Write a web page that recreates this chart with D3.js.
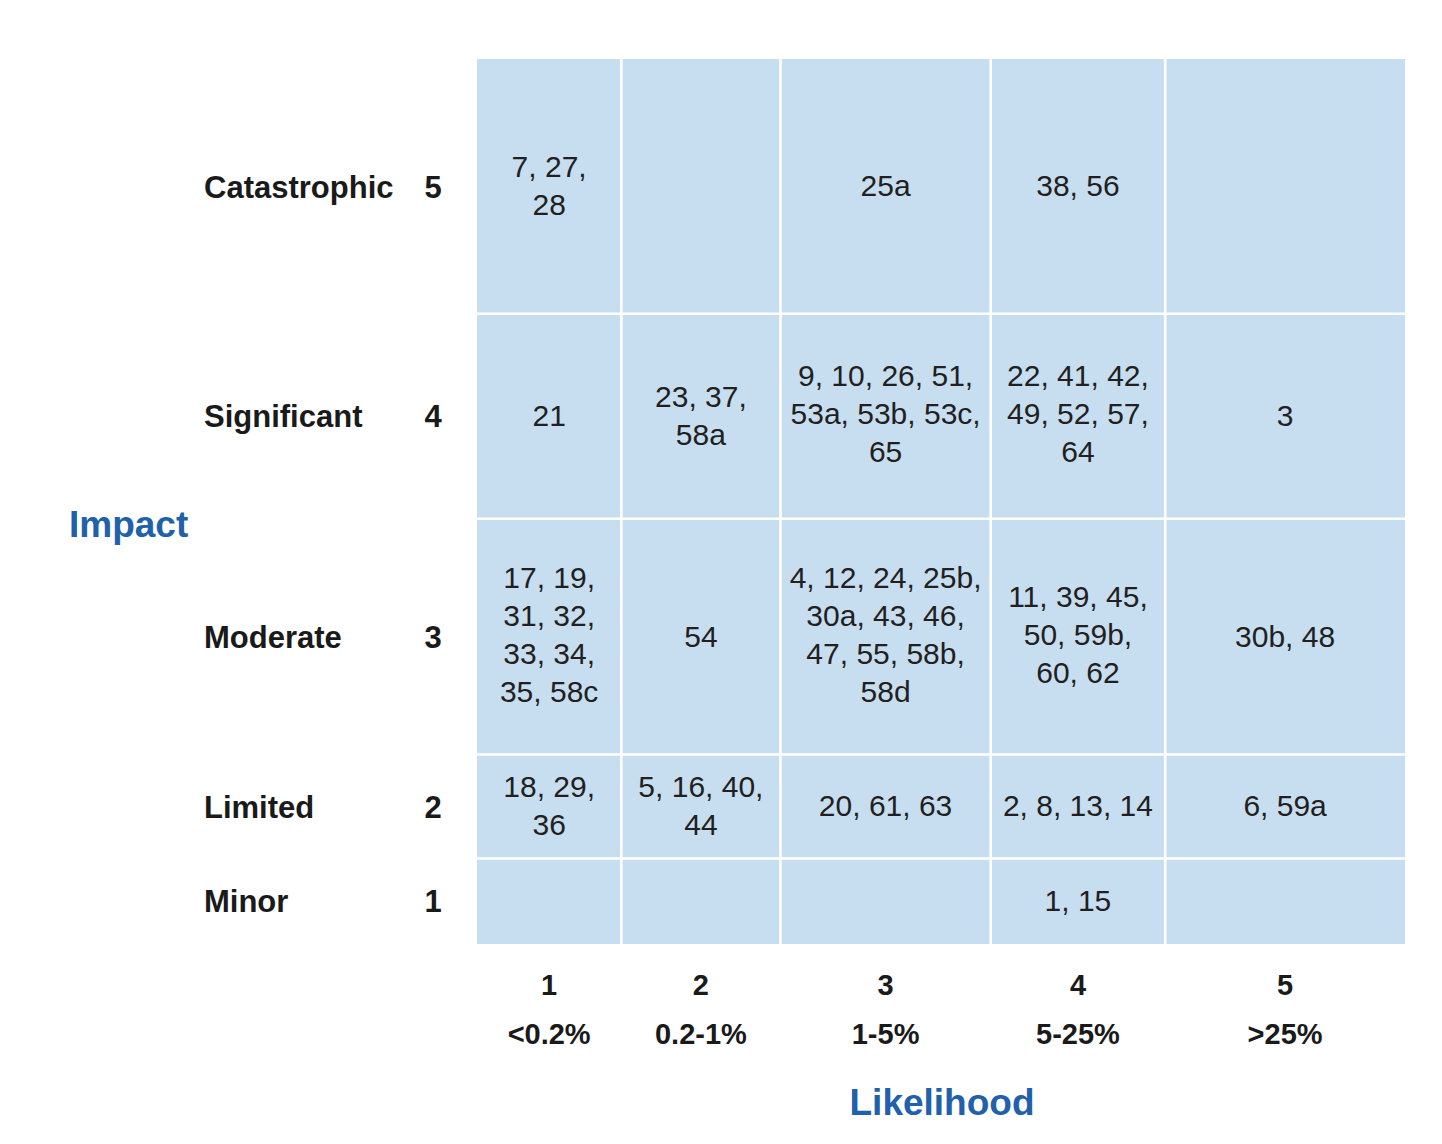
<!DOCTYPE html>
<html>
<head>
<meta charset="utf-8">
<script src="https://cdn.jsdelivr.net/npm/d3@7"></script>
<style>
  body { margin: 0; background: #fff; }
  svg text { font-family: "Liberation Sans", Arial, Helvetica, sans-serif; }
</style>
</head>
<body>
<div id="chart"></div>
<script>
// likelihood columns (x) and impact rows (y)
const likelihood = ["1", "2", "3", "4", "5"];
const likelihoodRange = ["<0.2%", "0.2-1%", "1-5%", "5-25%", ">25%"];
const impact = ["5", "4", "3", "2", "1"];
const impactNames = ["Catastrophic", "Significant", "Moderate", "Limited", "Minor"];

// risk ids per cell, one array per impact row, lines as wrapped in the original
const row5 = [["7, 27,", "28"], [], ["25a"], ["38, 56"], []];
const row4 = [["21"], ["23, 37,", "58a"], ["9, 10, 26, 51,", "53a, 53b, 53c,", "65"], ["22, 41, 42,", "49, 52, 57,", "64"], ["3"]];
const row3 = [["17, 19,", "31, 32,", "33, 34,", "35, 58c"], ["54"], ["4, 12, 24, 25b,", "30a, 43, 46,", "47, 55, 58b,", "58d"], ["11, 39, 45,", "50, 59b,", "60, 62"], ["30b, 48"]];
const row2 = [["18, 29,", "36"], ["5, 16, 40,", "44"], ["20, 61, 63"], ["2, 8, 13, 14"], ["6, 59a"]];
const row1 = [[], [], [], ["1, 15"], []];
const rows = [row5, row4, row3, row2, row1];

const width = 1442, height = 1144;
// uneven grid edges (layout)
const colEdges = [477, 621.3, 780.5, 990.7, 1165.2, 1405];
const rowEdges = [59, 313.8, 518.7, 754.5, 858.5, 944];

const x = d3.scaleLinear().domain(d3.range(6)).range(colEdges);
const y = d3.scaleLinear().domain(d3.range(6)).range(rowEdges);
const xc = i => (x(i) + x(i + 1)) / 2;
const yc = i => (y(i) + y(i + 1)) / 2;

const cells = [];
rows.forEach((r, ri) => r.forEach((lines, ci) => cells.push({ri, ci, lines})));

const svg = d3.select("#chart").append("svg")
  .attr("width", width).attr("height", height)
  .attr("viewBox", [0, 0, width, height]);

// cells
svg.append("g")
  .selectAll("rect")
  .data(cells)
  .join("rect")
  .attr("x", d => x(d.ci))
  .attr("y", d => y(d.ri))
  .attr("width", d => x(d.ci + 1) - x(d.ci))
  .attr("height", d => y(d.ri + 1) - y(d.ri))
  .attr("fill", "#c7def1");

// white separators
const grid = svg.append("g").attr("stroke", "#fff").attr("stroke-width", 2.6);
grid.selectAll("line.v")
  .data(d3.range(1, 5))
  .join("line")
  .attr("class", "v")
  .attr("x1", d => x(d)).attr("x2", d => x(d))
  .attr("y1", y(0)).attr("y2", y(5));
grid.selectAll("line.h")
  .data(d3.range(1, 5))
  .join("line")
  .attr("class", "h")
  .attr("y1", d => y(d)).attr("y2", d => y(d))
  .attr("x1", x(0)).attr("x2", x(5));

// cell text
const lineH = 38;
const cellText = svg.append("g")
  .attr("font-size", 30)
  .attr("fill", "#231f20")
  .attr("text-anchor", "middle")
  .selectAll("text")
  .data(cells.filter(d => d.lines.length))
  .join("text")
  .attr("x", d => xc(d.ci))
  .attr("y", d => yc(d.ri) - (d.lines.length - 1) * lineH / 2 - (d.lines.length > 2 ? 2 : 0));
cellText.selectAll("tspan")
  .data(d => d.lines.map(l => ({l, cx: xc(d.ci)})))
  .join("tspan")
  .attr("x", d => d.cx)
  .attr("dy", (d, i) => i === 0 ? "0.33em" : lineH)
  .text(d => d.l);

// row labels
const rowLab = svg.append("g")
  .attr("font-size", 31)
  .attr("font-weight", "bold")
  .attr("fill", "#1a1a1a");
rowLab.selectAll("text.name")
  .data(impactNames)
  .join("text")
  .attr("class", "name")
  .attr("x", 204)
  .attr("y", (d, i) => yc(i))
  .attr("dy", "0.36em")
  .text(d => d);
rowLab.selectAll("text.num")
  .data(impact)
  .join("text")
  .attr("class", "num")
  .attr("x", 433)
  .attr("text-anchor", "middle")
  .attr("y", (d, i) => yc(i))
  .attr("dy", "0.36em")
  .text(d => d);

// column labels
const colLab = svg.append("g")
  .attr("font-size", 29)
  .attr("font-weight", "bold")
  .attr("fill", "#1a1a1a")
  .attr("text-anchor", "middle");
colLab.selectAll("text.num")
  .data(likelihood)
  .join("text")
  .attr("class", "num")
  .attr("x", (d, i) => xc(i))
  .attr("y", 985)
  .attr("dy", "0.36em")
  .text(d => d);
colLab.selectAll("text.rng")
  .data(likelihoodRange)
  .join("text")
  .attr("class", "rng")
  .attr("x", (d, i) => xc(i))
  .attr("y", 1034)
  .attr("dy", "0.36em")
  .text(d => d);

// axis titles
svg.append("text")
  .attr("x", 69).attr("y", 524).attr("dy", "0.36em")
  .attr("font-size", 37).attr("font-weight", "bold")
  .attr("fill", "#2160ab")
  .text("Impact");
svg.append("text")
  .attr("x", 942).attr("y", 1102).attr("dy", "0.36em")
  .attr("text-anchor", "middle")
  .attr("font-size", 37).attr("font-weight", "bold")
  .attr("fill", "#2160ab")
  .text("Likelihood");
</script>
</body>
</html>
